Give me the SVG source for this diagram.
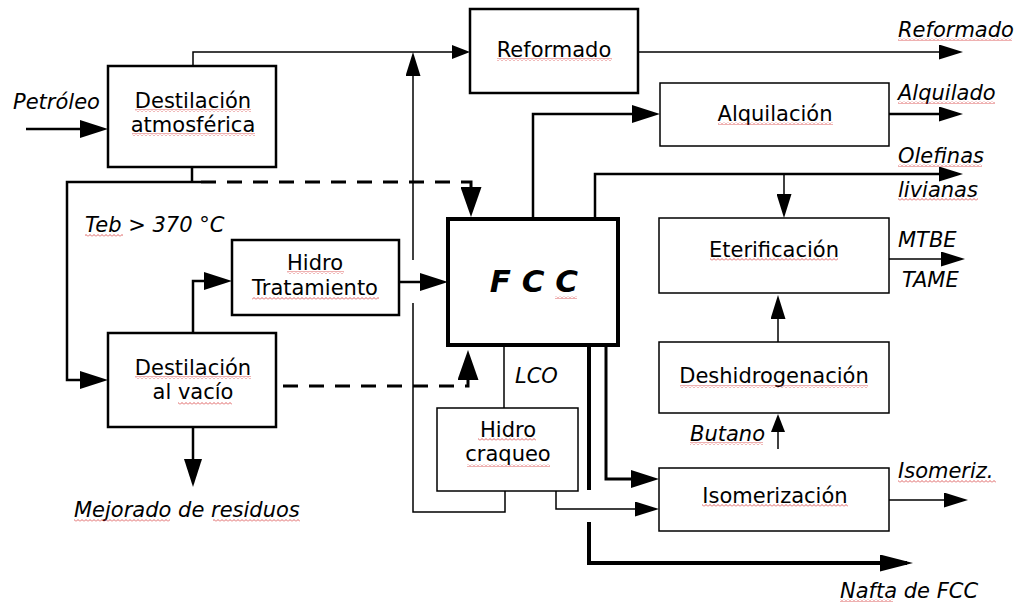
<svg xmlns="http://www.w3.org/2000/svg" width="1018" height="602" viewBox="0 0 1018 602">
<style>
.box{fill:#fff;stroke:#000}
.b1{stroke-width:2.5}.b0{stroke-width:1.5}.b2{stroke-width:4}
.lab{font-family:"DejaVu Sans ExtraLight","DejaVu Sans",sans-serif;font-size:21px;fill:#000;text-anchor:middle}
.it{font-family:"DejaVu Sans ExtraLight","DejaVu Sans",sans-serif;font-size:21px;font-style:italic;fill:#000}
.c{fill:none;stroke:#000}
.thk{stroke-width:2.5}.thn{stroke-width:1.5}
.dash{stroke-width:3;stroke-dasharray:15 11}
.sq{fill:url(#sq)}
</style>
<defs>
<marker id="ab" markerUnits="userSpaceOnUse" markerWidth="28" markerHeight="18" refX="22" refY="9" orient="auto"><path d="M0,0L28,9L0,18z" fill="#000"/></marker>
<marker id="am" markerUnits="userSpaceOnUse" markerWidth="24" markerHeight="15" refX="18" refY="7.5" orient="auto"><path d="M0,0L24,7.5L0,15z" fill="#000"/></marker>
<marker id="as" markerUnits="userSpaceOnUse" markerWidth="18" markerHeight="14" refX="12" refY="7" orient="auto"><path d="M0,0L18,7L0,14z" fill="#000"/></marker>
<marker id="ad" markerUnits="userSpaceOnUse" markerWidth="30" markerHeight="21" refX="24" refY="10.5" orient="auto"><path d="M0,0L30,10.5L0,21z" fill="#000"/></marker>
<marker id="an" markerUnits="userSpaceOnUse" markerWidth="33" markerHeight="17" refX="27" refY="8.5" orient="auto"><path d="M0,0L33,8.5L0,17z" fill="#000"/></marker>
<pattern id="sq" patternUnits="userSpaceOnUse" width="4" height="3"><polyline points="0,2.5 2,0.5 4,2.5" fill="none" stroke="#d02020" stroke-width="0.7"/></pattern>
</defs>
<rect width="1018" height="602" fill="#fff"/>

<g id="connectors">
<path class="c thk" d="M26,129H102" marker-end="url(#ab)"/>
<path class="c thn" d="M193,66V52H464" marker-end="url(#as)"/>
<path class="c thn" d="M505,491V512H413V303"/>
<path class="c thn" d="M413,260V58" marker-end="url(#am)"/>
<path class="c thk" d="M192,167V182"/>
<path class="c thk" d="M201,182H67V380H102" marker-end="url(#ab)"/>
<path class="c dash" d="M201,182H471V211" marker-end="url(#ad)"/>
<path class="c thk" d="M193,333V281H226" marker-end="url(#ab)"/>
<path class="c thk" d="M399,282H442" marker-end="url(#ab)"/>
<path class="c dash" d="M283,386H468V356" marker-end="url(#ad)"/>
<path class="c thk" d="M193,427V481" marker-end="url(#ab)"/>
<path class="c thn" d="M504,345V408"/>
<path class="c thn" d="M556,491V509H653" marker-end="url(#am)"/>
<path class="c" stroke-width="3" d="M606,345V479H653" marker-end="url(#ab)"/>
<path class="c" stroke-width="4" d="M589,345V490"/>
<path class="c" stroke-width="4" d="M589,522V563H907" marker-end="url(#an)"/>
<path class="c thk" d="M533,219V114H654" marker-end="url(#ab)"/>
<path class="c thk" d="M889,114H957" marker-end="url(#am)"/>
<path class="c thk" d="M595,219V174H957" marker-end="url(#am)"/>
<path class="c thn" d="M784,174V212" marker-end="url(#am)"/>
<path class="c thn" d="M778,342V301" marker-end="url(#am)"/>
<path class="c thn" d="M778,449V420" marker-end="url(#as)"/>
<path class="c thn" d="M889,259H959" marker-end="url(#am)"/>
<path class="c thn" d="M889,500H962" marker-end="url(#am)"/>
<path class="c thn" d="M638,52H957" marker-end="url(#am)"/>
</g>

<g id="destilacion-atmosferica">
<rect class="box b1" x="108" y="66" width="168" height="101"/>
<text class="lab" x="193" y="108">Destilación</text>
<text class="lab" x="193" y="132">atmosférica</text>
</g>
<g id="reformado">
<rect class="box b1" x="470" y="9" width="168" height="84"/>
<text class="lab" x="554" y="57">Reformado</text>
</g>
<g id="hidro-tratamiento">
<rect class="box b1" x="232" y="240" width="167" height="75"/>
<text class="lab" x="315" y="270">Hidro</text>
<text class="lab" x="315" y="295">Tratamiento</text>
</g>
<g id="destilacion-vacio">
<rect class="box b1" x="108" y="333" width="168" height="94"/>
<text class="lab" x="193" y="375">Destilación</text>
<text class="lab" x="193" y="399">al vacío</text>
</g>
<g id="fcc">
<rect class="box b2" x="448" y="219" width="170" height="126"/>
<text x="534" y="292" font-family="DejaVu Sans, sans-serif" font-size="31" font-weight="bold" font-style="italic" text-anchor="middle">F C C</text>
</g>
<g id="hidro-craqueo">
<rect class="box b0" x="437" y="408" width="141" height="83"/>
<text class="lab" x="508" y="437">Hidro</text>
<text class="lab" x="508" y="461">craqueo</text>
</g>
<g id="alquilacion">
<rect class="box b0" x="660" y="83" width="229" height="63"/>
<text class="lab" x="775" y="121">Alquilación</text>
</g>
<g id="eterificacion">
<rect class="box b0" x="659" y="218" width="230" height="75"/>
<text class="lab" x="774" y="257">Eterificación</text>
</g>
<g id="deshidrogenacion">
<rect class="box b0" x="659" y="342" width="230" height="71"/>
<text class="lab" x="774" y="383">Deshidrogenación</text>
</g>
<g id="isomerizacion">
<rect class="box b0" x="659" y="468" width="230" height="63"/>
<text class="lab" x="775" y="503">Isomerización</text>
</g>

<g id="labels">
<text class="it" x="13" y="109">Petróleo</text>
<text class="it" x="898" y="37">Reformado</text>
<text class="it" x="898" y="100">Alquilado</text>
<text class="it" x="898" y="163">Olefinas</text>
<text class="it" x="898" y="197">livianas</text>
<text class="it" x="85" y="232">Teb &gt; 370 °C</text>
<text class="it" x="898" y="247">MTBE</text>
<text class="it" x="902" y="287">TAME</text>
<text class="it" x="515" y="383">LCO</text>
<text class="it" x="690" y="441">Butano</text>
<text class="it" x="898" y="478">Isomeriz.</text>
<text class="it" x="74" y="517">Mejorado de residuos</text>
<text class="it" x="840" y="598" font-size="22">Nafta de FCC</text>
</g>

<g id="spellcheck">
<rect class="sq" x="135" y="109" width="116" height="3"/>
<rect class="sq" x="132" y="133" width="123" height="3"/>
<rect class="sq" x="497" y="58" width="115" height="3"/>
<rect class="sq" x="898" y="38" width="114" height="3"/>
<rect class="sq" x="718" y="122" width="115" height="3"/>
<rect class="sq" x="898" y="101" width="97" height="3"/>
<rect class="sq" x="898" y="164" width="84" height="3"/>
<rect class="sq" x="898" y="198" width="80" height="3"/>
<rect class="sq" x="85" y="234" width="38" height="3"/>
<rect class="sq" x="287" y="271" width="57" height="3"/>
<rect class="sq" x="252" y="297" width="127" height="3"/>
<rect class="sq" x="135" y="376" width="116" height="3"/>
<rect class="sq" x="178" y="402" width="54" height="3"/>
<rect class="sq" x="555" y="296" width="22" height="3"/>
<rect class="sq" x="710" y="258" width="128" height="3"/>
<rect class="sq" x="680" y="385" width="188" height="3"/>
<rect class="sq" x="478" y="438" width="58" height="3"/>
<rect class="sq" x="467" y="464" width="83" height="3"/>
<rect class="sq" x="690" y="442" width="73" height="3"/>
<rect class="sq" x="898" y="480" width="98" height="3"/>
<rect class="sq" x="702" y="504" width="146" height="3"/>
<rect class="sq" x="74" y="519" width="96" height="3"/>
<rect class="sq" x="213" y="519" width="87" height="3"/>
<rect class="sq" x="840" y="599" width="53" height="3"/>
</g>
</svg>
